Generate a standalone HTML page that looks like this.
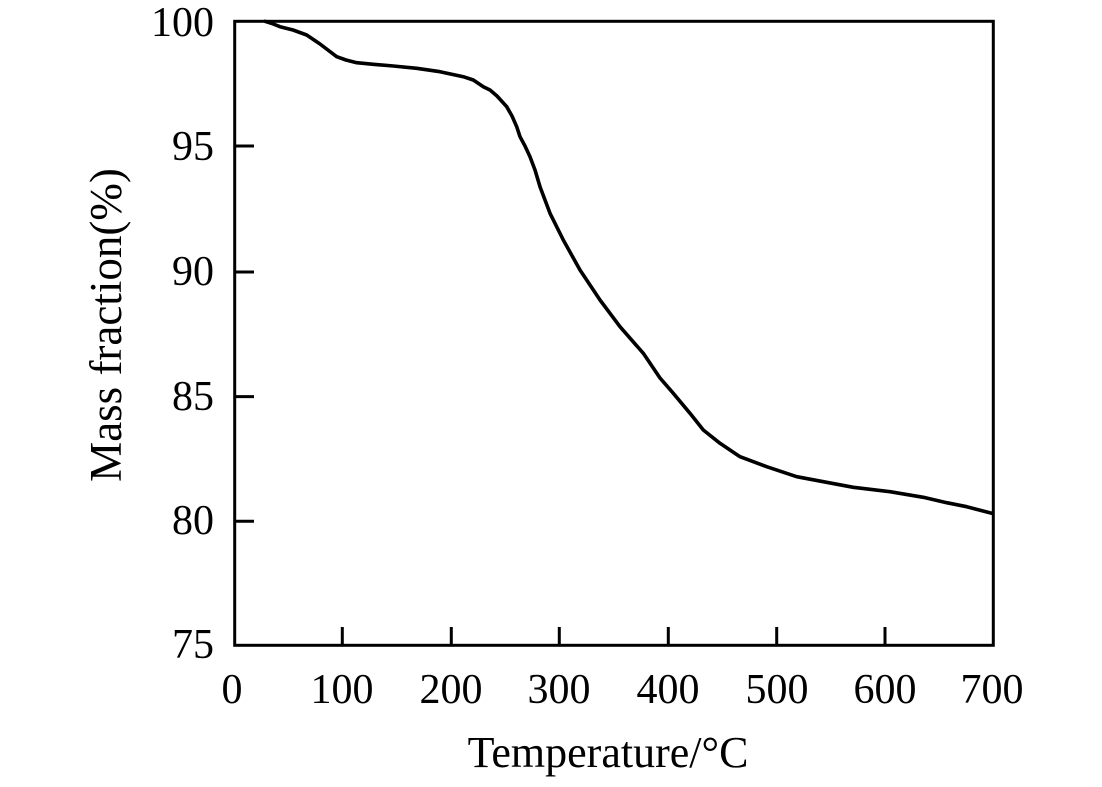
<!DOCTYPE html>
<html>
<head>
<meta charset="utf-8">
<style>
  html,body{margin:0;padding:0;background:#fff;}
  svg{display:block;}
  text{font-family:"Liberation Serif","Times New Roman",serif;fill:#000;}
</style>
</head>
<body>
<svg width="1102" height="787" viewBox="0 0 1102 787" xmlns="http://www.w3.org/2000/svg">
  <rect x="0" y="0" width="1102" height="787" fill="#fff"/>
  <!-- frame -->
  <rect x="234.7" y="21.3" width="758.6" height="624" fill="none" stroke="#000" stroke-width="3"/>
  <!-- y ticks -->
  <g stroke="#000" stroke-width="3">
    <line x1="234.7" y1="146" x2="254" y2="146"/>
    <line x1="234.7" y1="272" x2="254" y2="272"/>
    <line x1="234.7" y1="396.6" x2="254" y2="396.6"/>
    <line x1="234.7" y1="521.3" x2="254" y2="521.3"/>
    <!-- x ticks -->
    <line x1="342.3" y1="645.3" x2="342.3" y2="627"/>
    <line x1="451.3" y1="645.3" x2="451.3" y2="627"/>
    <line x1="559.3" y1="645.3" x2="559.3" y2="627"/>
    <line x1="668.3" y1="645.3" x2="668.3" y2="627"/>
    <line x1="776.7" y1="645.3" x2="776.7" y2="627"/>
    <line x1="885" y1="645.3" x2="885" y2="627"/>
  </g>
  <!-- y tick labels -->
  <g font-size="42" text-anchor="end">
    <text x="214" y="36">100</text>
    <text x="214" y="160">95</text>
    <text x="214" y="285">90</text>
    <text x="214" y="410">85</text>
    <text x="214" y="534">80</text>
    <text x="214" y="658">75</text>
  </g>
  <!-- x tick labels -->
  <g font-size="42" text-anchor="middle">
    <text x="232" y="703">0</text>
    <text x="342" y="703">100</text>
    <text x="451" y="703">200</text>
    <text x="559" y="703">300</text>
    <text x="668" y="703">400</text>
    <text x="777" y="703">500</text>
    <text x="885" y="703">600</text>
    <text x="992" y="703">700</text>
  </g>
  <!-- axis titles -->
  <text x="608" y="767" font-size="44" text-anchor="middle">Temperature/°C</text>
  <text transform="translate(121,325) rotate(-90)" font-size="45" text-anchor="middle">Mass fraction(%)</text>
  <!-- curve -->
  <polyline fill="none" stroke="#000" stroke-width="3.6" stroke-linejoin="round" stroke-linecap="round"
    points="265,21.3 272,23.5 280,26.7 293,30 306.7,35 320,44 336.7,56.7 346,60 356.7,62.7 373.3,64.3 393.3,66 416.7,68.3 440,71.7 463.3,76.7 473.3,80 483.3,86.7 490,90 497,96 506.7,106.7 512,116 516.7,126.7 520,136.7 525,146 530,156.7 535,170 540,186.7 550,213.3 563.3,240 580,270 600,300 620,326.7 643.3,353.3 660,378 673.3,393.3 690,413.3 703.3,430 720,443.3 740,456.7 766.7,466.7 796.7,476.7 823.3,481.7 853.3,487.3 890,491.7 923.3,497.3 946.7,502.7 966.7,506.7 991.7,513.3"/>
</svg>
</body>
</html>
